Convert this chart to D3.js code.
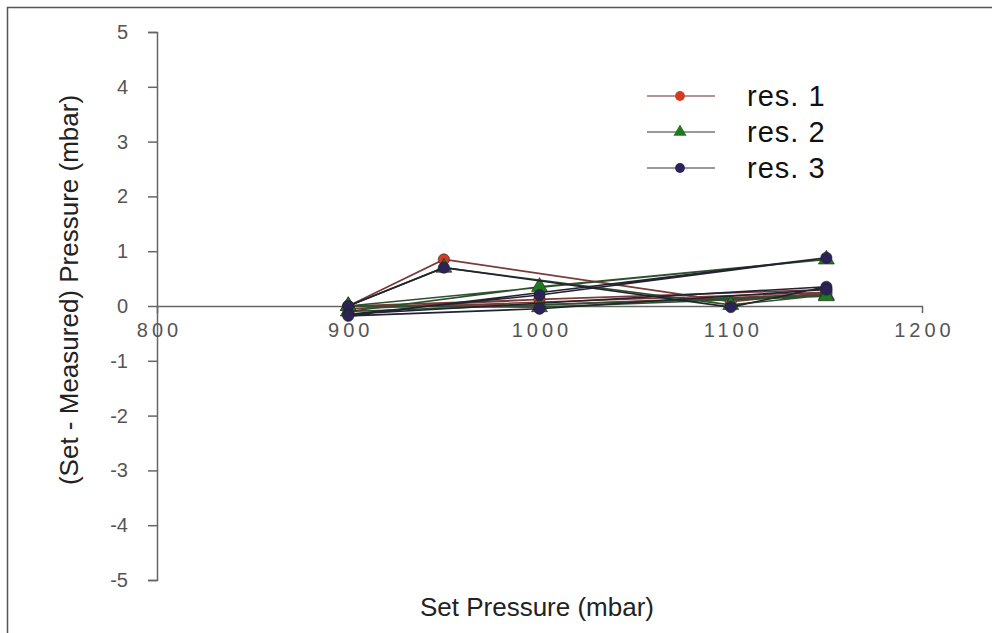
<!DOCTYPE html>
<html>
<head>
<meta charset="utf-8">
<script src="https://cdn.jsdelivr.net/npm/d3@7"></script>
<style>
  body { margin: 0; background: #fff; }
  text { font-family: "Liberation Sans", Arial, sans-serif; }
</style>
</head>
<body>
<div id="chart"></div>
<script>
// data: set pressure (mbar) and set - measured (mbar), in measurement order
let res1Set  = [900, 950, 1100, 1150, 900, 1000, 1150, 900, 1000, 1150];
let res1Diff = [0, 0.85, 0.08, 0.25, -0.05, 0.12, 0.3, 0, 0.02, 0.22];
let res2Set  = [900, 950, 1100, 1150, 900, 1000, 1150, 900, 1000, 1150];
let res2Diff = [0, 0.7, 0.02, 0.2, -0.1, 0.35, 0.85, 0, -0.02, 0.18];
let res3Set  = [900, 950, 1100, 1150, 900, 1000, 1150, 900, 1000, 1150];
let res3Diff = [0, 0.7, -0.02, 0.35, -0.15, 0.2, 0.88, -0.18, -0.05, 0.3];

let xTicks = [800, 900, 1000, 1100, 1200];
let yTicks = [-5, -4, -3, -2, -1, 0, 1, 2, 3, 4, 5];
let seriesNames = ["res. 1", "res. 2", "res. 3"];

let svgWidth = 992;
let svgHeight = 633;

let svg = d3.select("#chart")
    .append("svg")
    .attr("width", svgWidth)
    .attr("height", svgHeight);

// frame
svg.append("path")
    .attr("d", "M7.5,640V7.5H1000")
    .attr("fill", "none")
    .attr("stroke", "#555")
    .attr("stroke-width", 1.5);

// scales
let xScale = d3.scaleLinear().domain([800, 1200]).range([157, 922]);
let yScale = d3.scaleLinear().domain([-5, 5]).range([580, 32]);

// y axis
let leftAxis = d3.axisLeft(yScale).tickValues(yTicks)
    .tickFormat(d => String(d)).tickSize(9).tickPadding(20);
let yAxis = svg.append("g")
    .attr("transform", `translate(${xScale(800)},0)`)
    .call(leftAxis);
yAxis.attr("font-size", null).attr("font-family", null);
yAxis.selectAll("path, line").attr("stroke", "#666").attr("stroke-width", 1.5);
yAxis.selectAll("text").style("font-size", "20px").attr("fill", "#555");

// x axis drawn at y = 0
let bottomAxis = d3.axisBottom(xScale).tickValues(xTicks)
    .tickFormat(d => String(d))
    .tickSizeInner(0).tickSizeOuter(7).tickPadding(17);
let xAxis = svg.append("g")
    .attr("transform", `translate(0,${yScale(0)})`)
    .call(bottomAxis);
xAxis.attr("font-size", null).attr("font-family", null);
xAxis.selectAll("path, line").attr("stroke", "#666").attr("stroke-width", 1.5);
xAxis.selectAll("text").style("font-size", "20px").attr("fill", "#555")
    .attr("letter-spacing", "4px").attr("dx", "2px");

// series
let series = [
    { name: seriesNames[0], set: res1Set, diff: res1Diff, line: "#7a3a38", fill: "#d23a22", shape: d3.symbolCircle },
    { name: seriesNames[1], set: res2Set, diff: res2Diff, line: "#2f502f", fill: "#1f7a1f", shape: d3.symbolTriangle },
    { name: seriesNames[2], set: res3Set, diff: res3Diff, line: "#222230", fill: "#2b2356", shape: d3.symbolCircle }
];

let line = d3.line()
    .x(d => xScale(d[0]))
    .y(d => yScale(d[1]));

series.forEach(function (s) {
    let pts = s.set.map((v, i) => [v, s.diff[i]]);
    svg.append("path")
        .datum(pts)
        .attr("d", line)
        .attr("fill", "none")
        .attr("stroke", s.line)
        .attr("stroke-width", 1.6);
    svg.selectAll(null)
        .data(pts)
        .enter()
        .append("path")
        .attr("transform", d => `translate(${xScale(d[0])},${yScale(d[1])})`)
        .attr("d", d3.symbol().type(s.shape).size(s.shape === d3.symbolTriangle ? 110 : 100))
        .attr("fill", s.fill)
        .attr("stroke", "#222")
        .attr("stroke-width", 0.6);
});

// legend
let legend = svg.append("g");
series.forEach(function (s, i) {
    let y = 96 + i * 36;
    legend.append("line")
        .attr("x1", 647).attr("x2", 715)
        .attr("y1", y).attr("y2", y)
        .attr("stroke", i === 0 ? "#9a7070" : "#777")
        .attr("stroke-width", 1.5);
    legend.append("path")
        .attr("transform", `translate(680,${y})`)
        .attr("d", d3.symbol().type(s.shape).size(75))
        .attr("fill", s.fill);
    legend.append("text")
        .attr("x", 747)
        .attr("y", y + 10)
        .attr("font-size", 29)
        .attr("letter-spacing", "1px")
        .attr("fill", "#111")
        .text(s.name);
});

// axis titles
svg.append("text")
    .attr("x", 537)
    .attr("y", 616)
    .attr("text-anchor", "middle")
    .attr("font-size", 26)
    .attr("fill", "#222")
    .text("Set Pressure (mbar)");

svg.append("text")
    .attr("transform", "translate(78,290) rotate(-90)")
    .attr("text-anchor", "middle")
    .attr("font-size", 26)
    .attr("fill", "#222")
    .text("(Set - Measured) Pressure (mbar)");
</script>
</body>
</html>
